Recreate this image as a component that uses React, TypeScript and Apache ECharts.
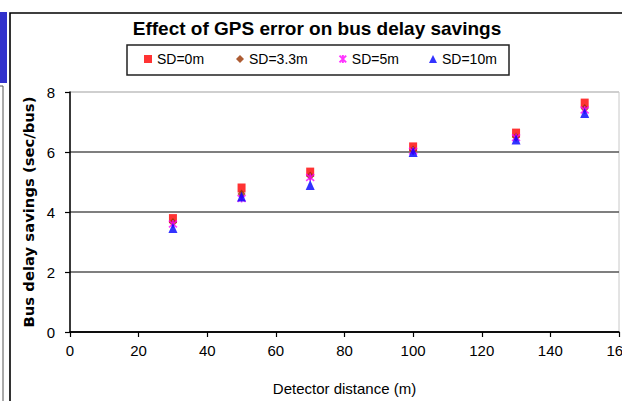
import React, { useEffect, useRef } from "react";
import * as echarts from "echarts";

const titleText = "Effect of GPS error on bus delay savings";
const xName = "Detector distance (m)";
const yName = "Bus delay savings (sec/bus)";
const distances = [30, 50, 70, 100, 130, 150];
const seriesNames = ["SD=0m", "SD=3.3m", "SD=5m", "SD=10m"];
const sd0 = [3.78, 4.8, 5.33, 6.17, 6.63, 7.63];
const sd33 = [3.65, 4.6, 5.2, 6.07, 6.5, 7.45];
const sd5 = [3.6, 4.45, 5.15, 6.03, 6.48, 7.4];
const sd10 = [3.47, 4.52, 4.9, 6.0, 6.42, 7.3];
const seriesValues = [sd0, sd33, sd5, sd10];
const colors = ["#ff0000", "#993300", "#ff00ff", "#0000ff"];
const symbols = [
  "rect",
  "diamond",
  "path://M0,0 L10,10 M10,0 L0,10 M5,-1 L5,11",
  "triangle",
];
const legendLefts = [144, 236, 337, 429];

const FONT = "'Liberation Sans', Arial, sans-serif";
const FONT_Y = "'DejaVu Sans', Verdana, sans-serif";

export default function App() {
  const ref = useRef<HTMLDivElement>(null);
  useEffect(() => {
    document.body.style.margin = "0";
    const chart = echarts.init(ref.current!, null, { renderer: "svg" });
    const series = seriesNames.map((name, i) => {
      const isStar = i === 2;
      return {
        name,
        type: "scatter",
        data: distances.map((d, j) => [d, seriesValues[i][j]]),
        symbol: symbols[i],
        symbolSize: i === 1 ? [8, 9] : i === 3 ? [9, 10] : isStar ? 8 : [8, 9],
        itemStyle: isStar
          ? { color: "none", borderColor: colors[i], borderWidth: 1.6 }
          : { color: colors[i] },
        z: 2 + i,
      };
    });
    chart.setOption({
      animation: false,
      backgroundColor: "#ffffff",
      graphic: [
        { type: "rect", shape: { x: 0, y: 12, width: 7, height: 71 }, style: { fill: "#3333cc" } },
        { type: "polyline", shape: { points: [[0, 86], [3, 86], [3, 401]] }, style: { stroke: "#555", lineWidth: 1, fill: "none" } },
        { type: "polyline", shape: { points: [[10, 401], [10, 13], [622, 13]] }, style: { stroke: "#000", lineWidth: 1.6, fill: "none" } },
        { type: "rect", shape: { x: 127, y: 45, width: 382, height: 30 }, style: { fill: "#fff", stroke: "#222", lineWidth: 1.5 }, z: -1 },
        {
          type: "text",
          x: 317,
          y: 28,
          style: {
            text: titleText,
            font: `bold 19px ${FONT}`,
            fill: "#000",
            align: "center",
            verticalAlign: "middle",
          },
        },
      ],
      legend: seriesNames.map((name, i) => ({
        data: [{ name, icon: symbols[i] }],
        left: legendLefts[i],
        top: 52,
        padding: 0,
        itemWidth: 8,
        itemHeight: 8,
        itemGap: 0,
        selectedMode: false,
        textStyle: { fontFamily: FONT, fontSize: 14, color: "#000", padding: [0, 0, 0, 0] },
      })),
      grid: {
        left: 70,
        right: 3,
        top: 92,
        bottom: 69,
        outerBoundsMode: "none",
        containLabel: false,
        show: true,
        borderColor: "#c8c8c8",
        borderWidth: 1,
        backgroundColor: "transparent",
      },
      xAxis: {
        type: "value",
        min: 0,
        max: 160,
        interval: 20,
        name: xName,
        nameLocation: "middle",
        nameGap: 49,
        nameTextStyle: { fontFamily: FONT, fontSize: 15, color: "#000" },
        axisLine: { show: true, lineStyle: { color: "#000", width: 1.5 } },
        axisTick: { show: true, length: 5, lineStyle: { color: "#000", width: 1.2 } },
        axisLabel: { fontFamily: FONT, fontSize: 15, color: "#000", margin: 11 },
        splitLine: { show: false },
      },
      yAxis: {
        type: "value",
        min: 0,
        max: 8,
        interval: 2,
        name: yName,
        nameLocation: "middle",
        nameGap: 32,
        nameRotate: 90,
        nameTextStyle: { fontFamily: FONT_Y, fontWeight: "bold", fontSize: 14.8, color: "#000" },
        axisLine: { show: true, lineStyle: { color: "#000", width: 1.5 } },
        axisTick: { show: true, length: 5, lineStyle: { color: "#000", width: 1.2 } },
        axisLabel: { fontFamily: FONT, fontSize: 15, color: "#000", margin: 15 },
        splitLine: {
          show: true,
          lineStyle: { color: ["#000", "#555", "#555", "#555", "#c8c8c8"], width: 1.5 },
        },
      },
      series,
    });
    return () => chart.dispose();
  }, []);
  return <div ref={ref} style={{ width: 622, height: 401 }} />;
}
